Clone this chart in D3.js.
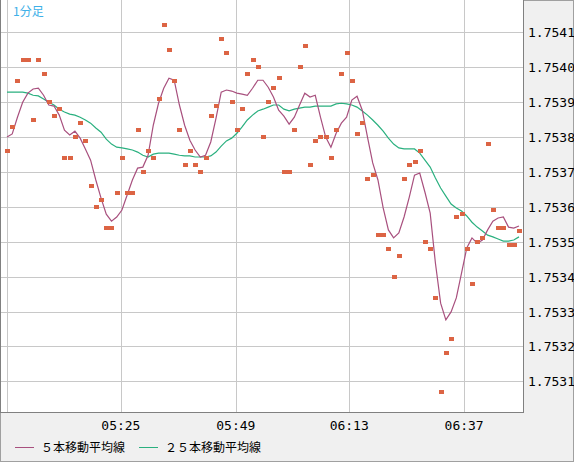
<!DOCTYPE html>
<html><head><meta charset="utf-8">
<script src="https://cdn.jsdelivr.net/npm/d3@7"></script>
<style>body{margin:0;background:#f0f0f0}svg{display:block}</style>
</head><body><svg id="c" width="574" height="462"></svg>
<script>
const closes = [
1.75376,1.75383,1.75396,1.75402,1.75402,1.75385,1.75402,1.75398,1.75390,1.75386,
1.75388,1.75374,1.75374,1.75380,1.75384,1.75379,1.75366,1.75360,1.75362,1.75354,
1.75354,1.75364,1.75374,1.75364,1.75364,1.75382,1.75370,1.75376,1.75374,1.75391,
1.75412,1.75405,1.75396,1.75382,1.75372,1.75376,1.75372,1.75370,1.75374,1.75386,
1.75389,1.75408,1.75404,1.75390,1.75382,1.75388,1.75398,1.75402,1.75400,1.75380,
1.75390,1.75394,1.75397,1.75370,1.75370,1.75382,1.75400,1.75406,1.75372,1.75379,
1.75380,1.75380,1.75374,1.75382,1.75398,1.75404,1.75396,1.75381,1.75384,1.75368,
1.75369,1.75352,1.75352,1.75348,1.75340,1.75346,1.75368,1.75372,1.75373,1.75376,
1.75350,1.75348,1.75334,1.75307,1.75318,1.75322,1.75357,1.75358,1.75348,1.75338,
1.75350,1.75351,1.75378,1.75359,1.75354,1.75354,1.75349,1.75349,1.75353];
const ma5 = [
1.753800,1.753809,1.753857,1.753900,1.753926,1.753938,1.753940,1.753920,1.753892,1.753889,
1.753863,1.753820,1.753806,1.753817,1.753797,1.753766,1.753734,1.753677,1.753625,1.753579,
1.753559,1.753571,1.753591,1.753634,1.753677,1.753711,1.753714,1.753748,1.753834,1.753897,
1.753940,1.753969,1.753963,1.753892,1.753834,1.753791,1.753763,1.753743,1.753748,1.753786,
1.753854,1.753929,1.753935,1.753932,1.753926,1.753923,1.753920,1.753940,1.753963,1.753963,
1.753943,1.753915,1.753877,1.753860,1.753837,1.753857,1.753892,1.753926,1.753915,1.753920,
1.753857,1.753800,1.753771,1.753811,1.753840,1.753857,1.753906,1.753917,1.753877,1.753800,
1.753726,1.753677,1.753597,1.753534,1.753511,1.753525,1.753571,1.753628,1.753691,1.753697,
1.753642,1.753582,1.753439,1.753324,1.753276,1.753299,1.753339,1.753410,1.753482,1.753511,
1.753496,1.753505,1.753534,1.753559,1.753568,1.753571,1.753542,1.753539,1.753545];
const ma25 = [
1.753929,1.753929,1.753929,1.753929,1.753926,1.753920,1.753918,1.753909,1.753900,1.753892,
1.753880,1.753872,1.753866,1.753863,1.753857,1.753849,1.753840,1.753826,1.753814,1.753794,
1.753780,1.753771,1.753769,1.753766,1.753763,1.753757,1.753748,1.753743,1.753751,1.753754,
1.753754,1.753754,1.753751,1.753748,1.753746,1.753746,1.753743,1.753743,1.753743,1.753746,
1.753757,1.753774,1.753789,1.753797,1.753811,1.753829,1.753849,1.753863,1.753875,1.753880,
1.753886,1.753892,1.753892,1.753880,1.753875,1.753880,1.753883,1.753886,1.753886,1.753889,
1.753889,1.753889,1.753889,1.753895,1.753897,1.753895,1.753892,1.753886,1.753875,1.753863,
1.753849,1.753834,1.753817,1.753797,1.753780,1.753769,1.753766,1.753766,1.753766,1.753754,
1.753734,1.753714,1.753683,1.753654,1.753631,1.753608,1.753597,1.753588,1.753574,1.753556,
1.753542,1.753531,1.753519,1.753514,1.753508,1.753502,1.753502,1.753505,1.753514];
const yTicks = [1.7531,1.7532,1.7533,1.7534,1.7535,1.7536,1.7537,1.7538,1.7539,1.7540,1.7541];
const xTickIdx = [0,21.8,43.8,65.5,87.5];
const xTickLabels = ["","05:25","05:49","06:13","06:37"];
const legendLabels = ["５本移動平均線","２５本移動平均線"];

const svg = d3.select("#c");
const L=1,R=523,T=0,B=412;
const x = d3.scaleLinear().domain([0,closes.length-1]).range([7,519]);
const y = d3.scaleLinear().domain([1.753012,1.754193]).range([B,T]);
const font = "'DejaVu Sans Mono', monospace";

svg.append("rect").attr("x",0.5).attr("y",0.5).attr("width",573).attr("height",461).attr("fill","#f0f0f0").attr("stroke","#a0a0a0");
svg.append("rect").attr("x",L).attr("y",T).attr("width",R-L).attr("height",B-T).attr("fill","#fff");
const g = svg.append("g");
g.selectAll(".hg").data(yTicks).join("line").attr("x1",L).attr("x2",R)
 .attr("y1",d=>Math.round(y(d))+0.5).attr("y2",d=>Math.round(y(d))+0.5).attr("stroke","#c8c8c8");
g.selectAll(".vg").data(xTickIdx).join("line").attr("y1",T).attr("y2",B)
 .attr("x1",d=>Math.round(x(d))+0.5).attr("x2",d=>Math.round(x(d))+0.5).attr("stroke","#c8c8c8");

const idx = d3.range(closes.length);
svg.append("path").datum(idx).attr("fill","none").attr("stroke","#2ab07f").attr("stroke-width",1.2)
 .attr("d",d3.line().x(i=>x(i)).y(i=>y(ma25[i])));
svg.append("path").datum(idx).attr("fill","none").attr("stroke","#a8507e").attr("stroke-width",1.2)
 .attr("d",d3.line().x(i=>x(i)).y(i=>y(ma5[i])));
svg.selectAll(".pt").data(idx).join("rect").attr("x",i=>Math.round(x(i))-2).attr("y",i=>Math.round(y(closes[i]))-2)
 .attr("width",5).attr("height",4).attr("fill","#dc6444");

// frame
svg.append("line").attr("x1",R+0.5).attr("x2",R+0.5).attr("y1",0).attr("y2",B+1).attr("stroke","#808080");
svg.append("line").attr("x1",0).attr("x2",R+1).attr("y1",B+0.5).attr("y2",B+0.5).attr("stroke","#808080");
svg.append("line").attr("x1",0.5).attr("x2",0.5).attr("y1",0).attr("y2",B+1).attr("stroke","#808080");

svg.selectAll(".yl").data(yTicks).join("text").attr("x",528).attr("y",d=>y(d)+5)
 .attr("font-family",font).attr("font-size",13).attr("fill","#000").text(d=>d.toFixed(4));
svg.selectAll(".xl").data(xTickIdx).join("text").attr("x",d=>x(d)).attr("y",430).attr("text-anchor","middle")
 .attr("font-family",font).attr("font-size",13).attr("fill","#000").text((d,i)=>xTickLabels[i]);

svg.append("text").attr("x",13).attr("y",16).attr("font-family","'Noto Sans CJK JP', sans-serif").attr("font-size",12).attr("fill","#3db0e8").text("1分足");

const lg = [{c:"#a8507e",x:15},{c:"#2ab07f",x:139}];
lg.forEach((d,i)=>{
  svg.append("line").attr("x1",d.x).attr("x2",d.x+19).attr("y1",447.5).attr("y2",447.5).attr("stroke",d.c);
  svg.append("text").attr("x",d.x+26).attr("y",452).attr("font-family","'Noto Sans CJK JP', sans-serif").attr("font-size",12).attr("fill","#000").text(legendLabels[i]);
});
</script></body></html>
